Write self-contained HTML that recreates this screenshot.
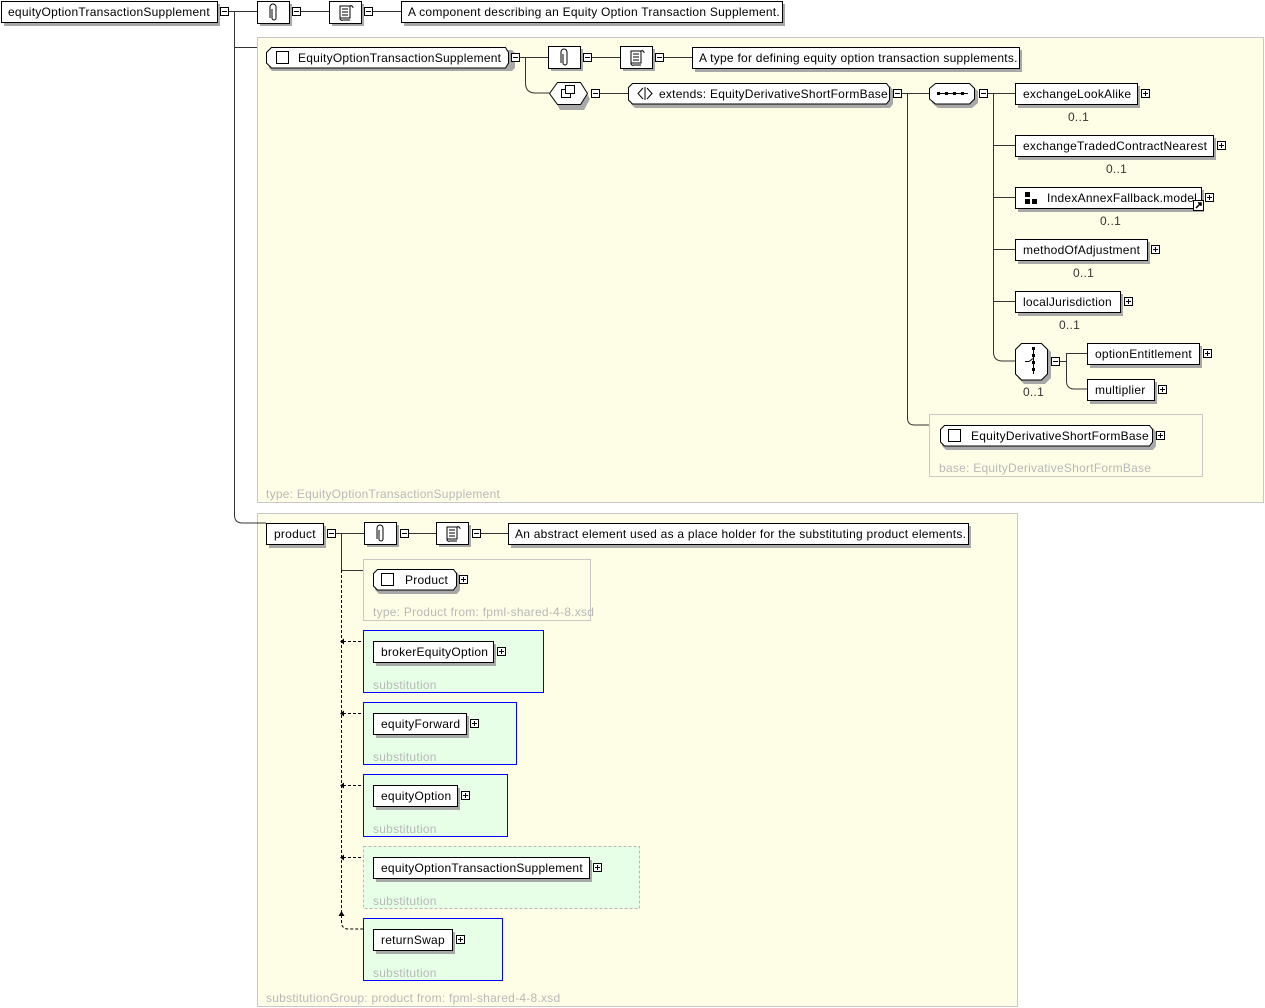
<!DOCTYPE html>
<html><head><meta charset="utf-8"><style>
html,body{margin:0;padding:0;background:#fff;}
svg{display:block;font-family:"Liberation Sans",sans-serif;font-size:12px;letter-spacing:0.25px;}
.s{fill:#a8a8a8;stroke:none}
.b{fill:#fff;stroke:#000;stroke-width:1}
.l{stroke:#333;stroke-width:1;fill:none}
.d{stroke:#000;stroke-width:1;fill:none;stroke-dasharray:3,2}
.g{fill:#b8b8b8}
.pm{fill:#fff;stroke:#000}
</style></head><body>
<svg width="1265" height="1008" viewBox="0 0 1265 1008">
<defs>
<g id="minus"><rect class="pm" x="0.5" y="0.5" width="8" height="8"/><line x1="2" y1="4.5" x2="7" y2="4.5" stroke="#000"/></g>
<g id="plus"><rect class="pm" x="0.5" y="0.5" width="8" height="8"/><line x1="2" y1="4.5" x2="7" y2="4.5" stroke="#000"/><line x1="4.5" y1="2" x2="4.5" y2="7" stroke="#000"/></g>
<g id="annot"><rect class="s" x="3" y="3" width="32" height="22"/><rect class="b" x="0.5" y="0.5" width="32" height="22"/><path d="M13 17 V6 a3 3 0 0 1 6 0 V17 a2 2 0 0 1 -4 0 V8" stroke="#000" fill="none"/></g>
<g id="doc"><rect class="s" x="3" y="3" width="32" height="22"/><rect class="b" x="0.5" y="0.5" width="32" height="22"/><path d="M11 5 h10 v12 h-10 z M13 8h6 M13 11h6 M13 14h6 M21 5 a2 2 0 0 1 3 2 M11 17 a2 2 0 0 0 3 2 h7" stroke="#000" fill="none"/></g>
</defs>

<rect x="257.5" y="37.5" width="1006" height="465" fill="#fefee6" stroke="#c8c8c8"/>
<text x="266" y="498" class="g">type: EquityOptionTransactionSupplement</text>
<rect x="929.5" y="414.5" width="273" height="62" fill="#fefee6" stroke="#c8c8c8"/>
<text x="939" y="472" class="g">base: EquityDerivativeShortFormBase</text>
<rect x="257.5" y="513.5" width="760" height="493" fill="#fefee6" stroke="#c8c8c8"/>
<text x="266" y="1002" class="g">substitutionGroup: product from: fpml-shared-4-8.xsd</text>
<rect x="363.5" y="559.5" width="227" height="61" fill="#fefee6" stroke="#c8c8c8"/>
<text x="373" y="616" class="g">type: Product from: fpml-shared-4-8.xsd</text>
<rect x="363.5" y="630.5" width="180" height="62" fill="#e6ffe6" stroke="#0000ff"/>
<text x="373" y="689" class="g">substitution</text>
<rect x="363.5" y="702.5" width="153" height="62" fill="#e6ffe6" stroke="#0000ff"/>
<text x="373" y="761" class="g">substitution</text>
<rect x="363.5" y="774.5" width="144" height="62" fill="#e6ffe6" stroke="#0000ff"/>
<text x="373" y="833" class="g">substitution</text>
<rect x="363.5" y="846.5" width="276" height="62" fill="#e6ffe6" stroke="#b8b8b8" stroke-dasharray="3,2"/>
<text x="373" y="905" class="g">substitution</text>
<rect x="363.5" y="918.5" width="139" height="62" fill="#e6ffe6" stroke="#0000ff"/>
<text x="373" y="977" class="g">substitution</text>

<path class="l" d="M229 11.5 H257 M234.5 11.5 V515 q0 8 8 8 H266 M234.5 47.5 H257 M301 11.5 H329 M373 11.5 H401"/>
<path class="l" d="M520 57.5 H548 M525.5 57.5 V83 q0 10 10 10 H549 M592 57.5 H620 M664 57.5 H692 M600 93.5 H628 M902 93.5 H929 M907.5 93.5 V418 q0 7 7 7 H929"/>
<path class="l" d="M988 93.5 H1015 M993.5 93.5 V352 q0 9 9 9 H1015 M993.5 145.5 H1015 M993.5 197.5 H1015 M993.5 249.5 H1015 M993.5 301.5 H1015 M1060 361.5 H1066 M1066.5 361.5 V353.5 H1087 M1066.5 361.5 V381 q0 8 8 8 H1087"/>
<path class="l" d="M336 533.5 H364 M341.5 533.5 V570.5 H363 M408 533.5 H436 M480 533.5 H508"/>
<path class="d" d="M341.5 570 V922 q0 7 7 7 H363 M343 641.5 H363 M343 713.5 H363 M343 785.5 H363 M343 857.5 H363"/>
<path d="M340 641.5 l4 -3 v6 z M340 713.5 l4 -3 v6 z M340 785.5 l4 -3 v6 z M340 857.5 l4 -3 v6 z M341.5 911 l-3 5 h6 z" fill="#000"/>

<rect class="s" x="4" y="4" width="216" height="22"/><rect class="b" x="1.5" y="1.5" width="216" height="21"/>
<text x="8" y="16">equityOptionTransactionSupplement</text>
<use href="#minus" x="220" y="7"/>
<use href="#annot" x="257" y="1"/><use href="#minus" x="292" y="7"/>
<use href="#doc" x="329" y="1"/><use href="#minus" x="364" y="7"/>
<rect class="s" x="404" y="4" width="381" height="22"/><rect class="b" x="401.5" y="1.5" width="381" height="21"/>
<text x="408" y="16">A component describing an Equity Option Transaction Supplement.</text>

<path class="s" d="M272 50 H512 l3 3 V68 l-3 3 H272 l-3 -3 V53 z"/>
<path class="b" d="M271.5 47.5 H505.5 l3 5 V63 l-3 5 H271.5 l-5 -5 V52.5 z"/>
<rect class="b" x="276.5" y="51.5" width="12" height="12"/>
<text x="298" y="62">EquityOptionTransactionSupplement</text>
<use href="#minus" x="511" y="53"/>
<use href="#annot" x="548" y="46"/><use href="#minus" x="583" y="53"/>
<use href="#doc" x="620" y="46"/><use href="#minus" x="655" y="53"/>
<rect class="s" x="695" y="50" width="327" height="22"/><rect class="b" x="692.5" y="47.5" width="327" height="21"/>
<text x="699" y="62">A type for defining equity option transaction supplements.</text>

<path class="s" d="M560 88 H584 l6 11 l-6 11 H560 l-6 -11 z"/>
<path class="b" d="M557.5 82.5 H580.5 l7 11 l-7 11 H557.5 l-8 -11 z"/>
<rect x="561.5" y="89.5" width="9" height="8" fill="#fff" stroke="#000"/><rect x="565.5" y="85.5" width="9" height="8" fill="#fff" stroke="#000"/>
<use href="#minus" x="591" y="89"/>
<path class="s" d="M635 86 H890 l3 4 V104 l-3 4 H635 l-4 -4 V90 z"/>
<path class="b" d="M632.5 83.5 H886.5 l3 4 V100 l-3 4 H632.5 l-4 -4 V87.5 z"/>
<path d="M643 88 l-5 5.5 l5 5.5 M647 88 l5 5.5 l-5 5.5" stroke="#000" fill="none"/><line x1="645" y1="87" x2="645" y2="100" stroke="#000"/>
<text x="659" y="98">extends: EquityDerivativeShortFormBase</text>
<use href="#minus" x="893" y="89"/>

<path class="s" d="M938 86 H972 l6 5 V103 l-6 5 H938 l-6 -5 V91 z"/>
<path class="b" d="M935.5 83.5 H969.5 l5 5 V99 l-5 5 H935.5 l-6 -5 V88.5 z"/>
<path d="M937 93.5 H968" stroke="#000"/><rect x="937" y="92" width="3" height="3"/><rect x="945" y="92" width="3" height="3"/><rect x="953" y="92" width="3" height="3"/><rect x="961" y="92" width="3" height="3"/>
<use href="#minus" x="979" y="89"/>

<rect class="s" x="1018" y="86" width="122" height="22"/><rect class="b" x="1015.5" y="83.5" width="122" height="21"/>
<text x="1023" y="98">exchangeLookAlike</text><use href="#plus" x="1141" y="89"/>
<text x="1068" y="121" fill="#333">0..1</text>
<rect class="s" x="1018" y="138" width="198" height="22"/><rect class="b" x="1015.5" y="135.5" width="198" height="21"/>
<text x="1023" y="150">exchangeTradedContractNearest</text><use href="#plus" x="1217" y="141"/>
<text x="1106" y="173" fill="#333">0..1</text>
<rect class="s" x="1018" y="190" width="186" height="22"/><rect class="b" x="1015.5" y="187.5" width="186" height="21"/>
<rect x="1025" y="192" width="5" height="5"/><rect x="1025" y="199" width="5" height="5"/><rect x="1032" y="199" width="5" height="5"/>
<text x="1047" y="202">IndexAnnexFallback.model</text><use href="#plus" x="1205" y="193"/>
<rect x="1193.5" y="200.5" width="10" height="10" fill="#fff" stroke="#000"/><path d="M1196 208 l5 -5 M1198 203 h3 v3" stroke="#000" stroke-width="1.5" fill="none"/>
<text x="1100" y="225" fill="#333">0..1</text>
<rect class="s" x="1018" y="242" width="132" height="22"/><rect class="b" x="1015.5" y="239.5" width="132" height="21"/>
<text x="1023" y="254">methodOfAdjustment</text><use href="#plus" x="1151" y="245"/>
<text x="1073" y="277" fill="#333">0..1</text>
<rect class="s" x="1018" y="294" width="105" height="22"/><rect class="b" x="1015.5" y="291.5" width="105" height="21"/>
<text x="1023" y="306">localJurisdiction</text><use href="#plus" x="1124" y="297"/>
<text x="1059" y="329" fill="#333">0..1</text>

<path class="s" d="M1024 346 H1045 l6 6 V378 l-6 6 H1024 l-6 -6 V352 z"/>
<path class="b" d="M1021.5 343.5 H1041.5 l6 6 V374 l-6 6 H1021.5 l-6 -6 V349.5 z"/>
<path d="M1025 361.5 h4 l4 -3 M1033.5 348 V374" stroke="#000" fill="none"/><rect x="1032" y="347" width="3" height="3"/><rect x="1032" y="354" width="3" height="3"/><rect x="1032" y="361" width="3" height="3"/><rect x="1032" y="368" width="3" height="3"/>
<use href="#minus" x="1051" y="357"/>
<text x="1023" y="396" fill="#333">0..1</text>
<rect class="s" x="1090" y="346" width="112" height="22"/><rect class="b" x="1087.5" y="343.5" width="112" height="21"/>
<text x="1095" y="358">optionEntitlement</text><use href="#plus" x="1203" y="349"/>
<rect class="s" x="1090" y="382" width="67" height="22"/><rect class="b" x="1087.5" y="379.5" width="67" height="21"/>
<text x="1095" y="394">multiplier</text><use href="#plus" x="1158" y="385"/>

<path class="s" d="M946 428 H1153 l3 4 V446 l-3 4 H946 l-4 -4 V432 z"/>
<path class="b" d="M944.5 425.5 H1149.5 l3 4 V442 l-3 4 H944.5 l-4 -4 V429.5 z"/>
<rect class="b" x="948.5" y="429.5" width="12" height="12"/>
<text x="971" y="440">EquityDerivativeShortFormBase</text><use href="#plus" x="1156" y="431"/>

<rect class="s" x="269" y="526" width="57" height="22"/><rect class="b" x="266.5" y="523.5" width="57" height="21"/>
<text x="274" y="538">product</text><use href="#minus" x="327" y="529"/>
<use href="#annot" x="364" y="522"/><use href="#minus" x="400" y="529"/>
<use href="#doc" x="436" y="522"/><use href="#minus" x="472" y="529"/>
<rect class="s" x="511" y="526" width="460" height="22"/><rect class="b" x="508.5" y="523.5" width="460" height="21"/>
<text x="515" y="538">An abstract element used as a place holder for the substituting product elements.</text>

<path class="s" d="M379 572 H457 l3 4 V590 l-3 4 H379 l-4 -4 V576 z"/>
<path class="b" d="M377.5 569.5 H453.5 l3 4 V586 l-3 4 H377.5 l-4 -4 V573.5 z"/>
<rect class="b" x="381.5" y="573.5" width="12" height="12"/>
<text x="405" y="584">Product</text><use href="#plus" x="459" y="575"/>

<rect class="s" x="376" y="644" width="120" height="22"/><rect class="b" x="373.5" y="641.5" width="120" height="21"/>
<text x="381" y="656">brokerEquityOption</text><use href="#plus" x="497" y="647"/>
<rect class="s" x="376" y="716" width="93" height="22"/><rect class="b" x="373.5" y="713.5" width="93" height="21"/>
<text x="381" y="728">equityForward</text><use href="#plus" x="470" y="719"/>
<rect class="s" x="376" y="788" width="84" height="22"/><rect class="b" x="373.5" y="785.5" width="84" height="21"/>
<text x="381" y="800">equityOption</text><use href="#plus" x="461" y="791"/>
<rect class="s" x="376" y="860" width="216" height="22"/><rect class="b" x="373.5" y="857.5" width="216" height="21"/>
<text x="381" y="872">equityOptionTransactionSupplement</text><use href="#plus" x="593" y="863"/>
<rect class="s" x="376" y="932" width="79" height="22"/><rect class="b" x="373.5" y="929.5" width="79" height="21"/>
<text x="381" y="944">returnSwap</text><use href="#plus" x="456" y="935"/>
</svg>
</body></html>
